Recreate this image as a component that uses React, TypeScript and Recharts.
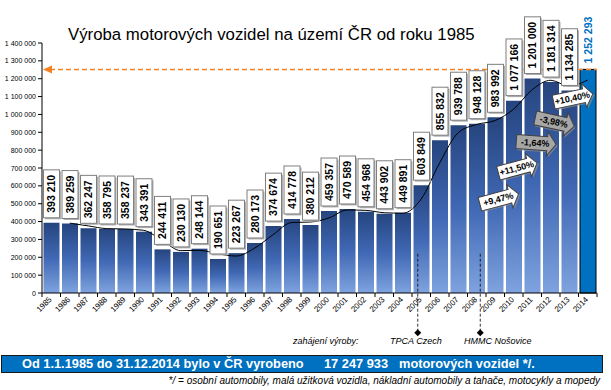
import {
  Bar,
  BarChart,
  Cell,
  LabelList,
  Line,
  ReferenceDot,
  ReferenceLine,
  XAxis,
  YAxis,
} from "recharts"

const years = [
  "1985", "1986", "1987", "1988", "1989", "1990", "1991", "1992", "1993", "1994",
  "1995", "1996", "1997", "1998", "1999", "2000", "2001", "2002", "2003", "2004",
  "2005", "2006", "2007", "2008", "2009", "2010", "2011", "2012", "2013", "2014",
]

const production = [
  393210, 389259, 362247, 358795, 358237, 343391, 244411, 230130, 248144, 190651,
  223267, 280173, 374674, 414778, 380212, 459357, 470589, 454968, 443902, 449891,
  603849, 855832, 939788, 948128, 983992, 1077166, 1201000, 1181314, 1134285, 1252293,
]

const yTicks = [
  0, 100000, 200000, 300000, 400000, 500000, 600000, 700000,
  800000, 900000, 1000000, 1100000, 1200000, 1300000, 1400000,
]

// year-on-year callouts
const growthYears = ["2009", "2010", "2011", "2012", "2013"]
const growthLabels = ["+9,47%", "+11,50%", "-1,64%", "-3,98%", "+10,40%"]
const growthPos = [526000, 700000, 840000, 957000, 1092000]
const growthAngle = [-15, -15, 4, 12, -12]

const plantYears = ["2005", "2008"]

const W = 611
const H = 390
const PLOT_LEFT = 42
const PLOT_RIGHT = 597
const BAND = (PLOT_RIGHT - PLOT_LEFT) / years.length
const FONT = "'Liberation Sans', Arial, sans-serif"
const BLUE = "#0070c0"

const fmt = (v: number) => String(Math.round(v)).replace(/\B(?=(\d{3})+(?!\d))/g, " ")

// 2-period moving average trendline (Excel style)
const data = years.map((year, i) => ({
  year,
  value: production[i],
  trend: i === 0 ? null : (production[i] + production[i - 1]) / 2,
}))

function textWidth(s: string, fs: number) {
  let w = 0
  for (const ch of s) w += ch === " " ? 0.278 : 0.556
  return w * fs
}

function BoxLabel(props: any) {
  const { x, y, width, value, index } = props
  const text = fmt(value)
  const cx = x + width / 2
  const fs = 10.5
  const tw = textWidth(text, fs)
  if (index === years.length - 1) {
    const cy = y - 6 - tw / 2
    return (
      <text x={cx} y={cy} transform={`rotate(-90 ${cx} ${cy})`} textAnchor="middle"
        dominantBaseline="central" fontFamily={FONT} fontWeight="bold" fontSize={fs} fill={BLUE}>
        {text}
      </text>
    )
  }
  const h = tw + 10
  const bw = 16
  const top = y - 5 - h
  const cy = top + h / 2
  return (
    <g>
      <rect x={cx - bw / 2 + 1.5} y={top + 1.5} width={bw} height={h} fill="#b0b0b0" />
      <rect x={cx - bw / 2} y={top} width={bw} height={h} fill="#fff" stroke="#7f7f7f" strokeWidth={1} />
      <text x={cx} y={cy} transform={`rotate(-90 ${cx} ${cy})`} textAnchor="middle"
        dominantBaseline="central" fontFamily={FONT} fontWeight="bold" fontSize={fs} fill="#000">
        {text}
      </text>
    </g>
  )
}

function YearTick(props: any) {
  const { x, y, payload, index } = props
  return (
    <g>
      <line x1={x - BAND / 2} x2={x - BAND / 2} y1={y} y2={y + 4} stroke="#000" />
      {index === years.length - 1 && (
        <line x1={x + BAND / 2} x2={x + BAND / 2} y1={y} y2={y + 4} stroke="#000" />
      )}
      <g transform={`translate(${x + 1} ${y + 7}) rotate(-45)`}>
        <text x={0} y={0} textAnchor="end" fontFamily={FONT} fontSize={8} fill="#000">
          {payload.value}
        </text>
      </g>
    </g>
  )
}

function ValueTick(props: any) {
  const { x, y, payload } = props
  return (
    <text x={x} y={y} dy={2.5} textAnchor="end" fontFamily={FONT} fontSize={7} fill="#000">
      {fmt(payload.value)}
    </text>
  )
}

function GrowthArrow(props: any) {
  const { cx, cy, label, angle } = props
  const neg = label.startsWith("-")
  const w = 40
  const h = 14
  const hh = 24
  const head = 9
  const x0 = -w / 2
  const xb = w / 2 - head
  const d = `M${x0},${-h / 2} L${xb},${-h / 2} L${xb},${-hh / 2} L${w / 2},0 L${xb},${hh / 2} L${xb},${h / 2} L${x0},${h / 2} Z`
  return (
    <g transform={`translate(${cx + 4} ${cy}) rotate(${angle})`}>
      <path d={d} transform="translate(1.5 1.5)" fill="#9a9a9a" opacity={0.6} />
      <path d={d} fill={neg ? "#a6a6a6" : "#fff"} stroke="#404040" strokeWidth={1} />
      <text x={-1} y={0} textAnchor="middle" dominantBaseline="central" fontFamily={FONT}
        fontWeight="bold" fontSize={9} fill="#000">
        {label}
      </text>
    </g>
  )
}

function PlantLine(props: any) {
  const { x1, y1, y2, dx } = props
  const x = x1 + dx
  return (
    <g>
      <line x1={x} x2={x} y1={y1} y2={y2} stroke="#000" strokeDasharray="3 2" strokeWidth={0.8} />
      <path d={`M${x},${y2 - 3.5} L${x + 3.5},${y2} L${x},${y2 + 3.5} L${x - 3.5},${y2} Z`} fill="#000" />
    </g>
  )
}

function MaxLine(props: any) {
  const { x1, x2, y1 } = props
  return (
    <g>
      <line x1={x1 + 8} x2={x2} y1={y1} y2={y1} stroke="#f58220" strokeWidth={1.5} strokeDasharray="5 3" />
      <path d={`M${x1 + 1},${y1} L${x1 + 10},${y1 - 4} L${x1 + 10},${y1 + 4} Z`} fill="#f58220" />
    </g>
  )
}

export default function App() {
  return (
    <div style={{ position: "absolute", left: 0, top: 0, width: W, height: H, background: "#fff" }}>
      <BarChart
        width={W}
        height={H}
        data={data}
        margin={{ top: 43, right: W - PLOT_RIGHT, bottom: 67, left: 2 }}
        barCategoryGap={1.5}
      >
        <defs>
          <linearGradient id="barGrad" x1="0" y1="0" x2="0" y2="1">
            <stop offset="0%" stopColor="#26457f" />
            <stop offset="50%" stopColor="#4068b4" />
            <stop offset="100%" stopColor="#7fa3df" />
          </linearGradient>
        </defs>
        <YAxis
          width={40}
          domain={[0, 1400000]}
          ticks={yTicks}
          interval={0}
          tick={<ValueTick />}
          tickSize={4}
          tickMargin={2}
          axisLine={{ stroke: "#000" }}
          tickLine={{ stroke: "#000" }}
        />
        <XAxis
          dataKey="year"
          height={30}
          interval={0}
          tickLine={false}
          tickSize={0}
          tickMargin={0}
          axisLine={{ stroke: "#000" }}
          tick={<YearTick />}
        />
        <Bar dataKey="value" fill="url(#barGrad)" isAnimationActive={false}>
          {data.map((d, i) => (
            <Cell
              key={d.year}
              fill={i === data.length - 1 ? BLUE : "url(#barGrad)"}
              stroke={i === data.length - 1 ? "#000" : "none"}
            />
          ))}
          <LabelList dataKey="value" content={<BoxLabel />} />
        </Bar>
        <Line
          dataKey="trend"
          type="monotone"
          stroke="#000"
          strokeWidth={1}
          dot={false}
          activeDot={false}
          connectNulls
          isAnimationActive={false}
        />
        <ReferenceLine y={production[production.length - 1]} ifOverflow="visible" shape={(p: any) => <MaxLine {...p} />} />
        {plantYears.map((yr, i) => (
          <ReferenceLine
            key={yr}
            segment={[{ x: yr, y: 220000 }, { x: yr, y: -222000 }]}
            ifOverflow="visible"
            shape={(p: any) => <PlantLine {...p} dx={i === 0 ? -3.5 : 3.5} />}
          />
        ))}
        {growthYears.map((yr, i) => (
          <ReferenceDot
            key={yr}
            x={yr}
            y={growthPos[i]}
            ifOverflow="visible"
            shape={(p: any) => <GrowthArrow {...p} label={growthLabels[i]} angle={growthAngle[i]} />}
          />
        ))}
      </BarChart>
      <svg width={W} height={H} style={{ position: "absolute", left: 0, top: 0, pointerEvents: "none" }}>
        <text x={68} y={40} fontFamily={FONT} fontSize={16.8} fill="#000">
          Výroba motorových vozidel na území ČR od roku 1985
        </text>
        <g fontFamily={FONT} fontStyle="italic" fontSize={9} fill="#000">
          <text x={293} y={344}>zahájení výroby:</text>
          <text x={390} y={344}>TPCA Czech</text>
          <text x={464} y={344}>HMMC Nošovice</text>
        </g>
        <rect x={1.5} y={355.5} width={601} height={17} fill={BLUE} stroke="#1a1a1a" strokeWidth={1} />
        <g fontFamily={FONT} fontWeight="bold" fontSize={12.8} fill="#fff" style={{ whiteSpace: "pre" }}>
          <text x={22} y={368}>Od  1.1.1985 do 31.12.2014 bylo v ČR vyrobeno</text>
          <text x={324} y={368}>17 247 933</text>
          <text x={399} y={368}>motorových vozidel */.</text>
        </g>
        <text x={600} y={384} textAnchor="end" fontFamily={FONT} fontStyle="italic" fontSize={10} fill="#000">
          */ = osobní automobily, malá užitková vozidla, nákladní automobily a tahače, motocykly a mopedy
        </text>
      </svg>
    </div>
  )
}
